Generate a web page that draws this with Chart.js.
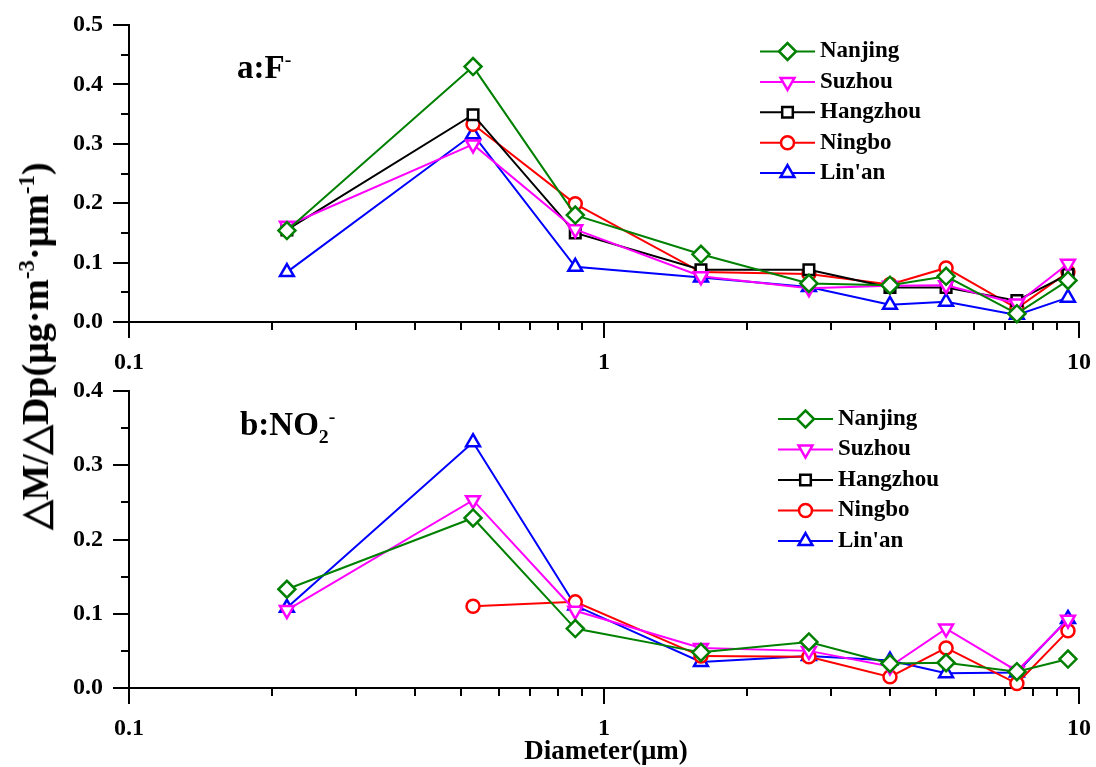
<!DOCTYPE html>
<html>
<head>
<meta charset="utf-8">
<script src="https://cdn.jsdelivr.net/npm/chart.js@4.4.0/dist/chart.umd.min.js"></script>
<style>
  body { margin: 0; background: #fff; width: 1096px; height: 767px; position: relative; overflow: hidden;
         font-family: 'Liberation Serif', 'Times New Roman', serif; font-weight: bold; }
  canvas { position: absolute; left: 0; }
  #cTop { top: 0; }
  #cBot { top: 366px; }
  .t { position: absolute; white-space: nowrap; line-height: 1; color: #000; }
  sup, sub { font-size: 60%; line-height: 0; }
  #yTitle { font-size: 38px; left: 35px; top: 346px; transform: translate(-50%, -50%) rotate(-90deg); }
  #xTitle { font-size: 27px; left: 606px; top: 737px; transform: translateX(-50%); }
  #labA { font-size: 33px; left: 237px; top: 51px; }
  #labB { font-size: 33px; left: 240px; top: 408px; }
</style>
</head>
<body>
<canvas id="cTop" width="1096" height="383"></canvas>
<canvas id="cBot" width="1096" height="383"></canvas>
<div class="t" id="yTitle">△M/△Dp(μg·m<sup>-3</sup>·μm<sup>-1</sup>)</div>
<div class="t" id="xTitle">Diameter(μm)</div>
<div class="t" id="labA">a:F<sup>-</sup></div>
<div class="t" id="labB">b:NO<sub>2</sub><sup>-</sup></div>
<script>
// stage midpoints (um)
const diameters = [0.215, 0.53, 0.87, 1.6, 2.7, 4.0, 5.25, 7.4, 9.48];
const cities = ['Nanjing', 'Suzhou', 'Hangzhou', 'Ningbo', "Lin'an"];

// a: F-
const fNanjing  = [0.154, 0.430, 0.180, 0.114, 0.065, 0.062, 0.077, 0.014, 0.070];
const fSuzhou   = [0.162, 0.299, 0.156, 0.077, 0.057, 0.061, 0.062, 0.031, 0.098];
const fHangzhou = [0.155, 0.349, 0.150, 0.088, 0.088, 0.058, 0.058, 0.036, 0.080];
const fNingbo   = [null,  0.333, 0.199, 0.084, 0.081, 0.063, 0.091, 0.023, 0.084];
const fLinan    = [0.084, 0.316, 0.093, 0.075, 0.059, 0.029, 0.034, 0.012, 0.041];

// b: NO2-
const nNanjing  = [0.133, 0.229, 0.080, 0.048, 0.062, 0.033, 0.034, 0.022, 0.039];
const nSuzhou   = [0.105, 0.253, 0.104, 0.054, 0.050, 0.029, 0.080, 0.023, 0.092];
const nHangzhou = [null, null, null, null, null, null, null, null, null];
const nNingbo   = [null,  0.110, 0.116, 0.043, 0.042, 0.015, 0.054, 0.006, 0.077];
const nLinan    = [0.108, 0.331, 0.111, 0.035, 0.043, 0.037, 0.020, 0.021, 0.093];

const xTickLabels = ['0.1', '1', '10'];
const yTicksTop = ['0.0', '0.1', '0.2', '0.3', '0.4', '0.5'];
const yTicksBottom = ['0.0', '0.1', '0.2', '0.3', '0.4'];

const styles = [
  { color: '#008000', point: 'rectRot',  radius: 8.5, rotation: 0 },
  { color: '#ff00ff', point: 'triangle', radius: 8,   rotation: 180 },
  { color: '#000000', point: 'rect',     radius: 7.5, rotation: 0 },
  { color: '#ff0000', point: 'circle',   radius: 6.5, rotation: 0 },
  { color: '#0000ff', point: 'triangle', radius: 8,   rotation: 0 }
];

Chart.defaults.font.family = "'Liberation Serif', 'Times New Roman', serif";
Chart.defaults.font.weight = 'bold';
Chart.defaults.color = '#000';

function decadeIndex(v) {
  const l = Math.log10(v);
  const d = Math.round(l);
  return Math.abs(l - d) < 1e-6 ? d + 1 : -1;
}
function wholeSignificand(v) {
  const e = Math.floor(Math.log10(v) + 1e-9);
  const s = v / Math.pow(10, e);
  return Math.abs(s - Math.round(s)) < 1e-6;
}
function tenthIndex(v) {
  const k = Math.round(v * 10);
  return Math.abs(v * 10 - k) < 1e-6 ? k : -1;
}

// outward major / minor tick marks
const tickMarks = {
  id: 'tickMarks',
  afterDraw(chart) {
    const ctx = chart.ctx, xs = chart.scales.x, ys = chart.scales.y, a = chart.chartArea;
    ctx.save();
    ctx.strokeStyle = '#000';
    ctx.lineWidth = 2;
    ctx.beginPath();
    xs.ticks.forEach(t => {
      const px = Math.round(xs.getPixelForValue(t.value));
      const len = decadeIndex(t.value) >= 0 ? 16 : 8;
      ctx.moveTo(px, a.bottom);
      ctx.lineTo(px, a.bottom + len);
    });
    ys.ticks.forEach(t => {
      const py = Math.round(ys.getPixelForValue(t.value));
      const len = tenthIndex(t.value) >= 0 ? 16 : 8;
      ctx.moveTo(a.left, py);
      ctx.lineTo(a.left - len, py);
    });
    ctx.stroke();
    ctx.restore();
  }
};

// legend drawn inside the plot
const cityLegend = {
  id: 'cityLegend',
  afterDraw(chart, args, opts) {
    const ctx = chart.ctx;
    chart.data.datasets.forEach((ds, i) => {
      const y = opts.y + i * opts.dy;
      ctx.save();
      ctx.strokeStyle = ds.borderColor;
      ctx.lineWidth = ds.borderWidth;
      ctx.beginPath();
      ctx.moveTo(opts.x, y);
      ctx.lineTo(opts.x + opts.len, y);
      ctx.stroke();
      ctx.fillStyle = '#fff';
      ctx.lineWidth = ds.pointBorderWidth;
      Chart.helpers.drawPoint(ctx, {
        pointStyle: ds.pointStyle, radius: ds.pointRadius,
        rotation: ds.pointRotation, borderWidth: ds.pointBorderWidth
      }, opts.x + opts.len / 2, y);
      ctx.fillStyle = '#000';
      ctx.font = "bold 23px 'Liberation Serif', 'Times New Roman', serif";
      ctx.textBaseline = 'middle';
      ctx.fillText(ds.label, opts.textX, y);
      ctx.restore();
    });
  }
};

// invisible tick marks only push the labels away from the axes
const hiddenGrid = { display: true, drawOnChartArea: false, drawTicks: true, tickLength: 26, tickColor: 'rgba(0,0,0,0)' };

function makeChart(id, seriesList, yLabels, legendOpts) {
  const yMax = parseFloat(yLabels[yLabels.length - 1]);
  return new Chart(document.getElementById(id), {
    type: 'line',
    data: {
      datasets: seriesList.map((vals, i) => ({
        label: cities[i],
        data: diameters.map((d, j) => ({ x: d, y: vals[j] })),
        borderColor: styles[i].color,
        backgroundColor: '#fff',
        borderWidth: 2,
        pointStyle: styles[i].point,
        pointRadius: styles[i].radius,
        pointRotation: styles[i].rotation,
        pointBorderWidth: 2.5,
        pointBorderColor: styles[i].color,
        pointBackgroundColor: '#fff',
        tension: 0,
        spanGaps: false,
        clip: 12
      }))
    },
    options: {
      responsive: false,
      animation: false,
      events: [],
      layout: { padding: { left: 0, right: 17, top: 25, bottom: 0 } },
      plugins: {
        legend: { display: false },
        tooltip: { enabled: false },
        cityLegend: legendOpts
      },
      scales: {
        x: {
          type: 'logarithmic',
          min: 0.1,
          max: 10,
          afterFit: s => { s.height = 61; },
          afterBuildTicks: s => { s.ticks = s.ticks.filter(t => wholeSignificand(t.value)); },
          grid: hiddenGrid,
          border: { display: true, color: '#000', width: 2 },
          ticks: {
            autoSkip: false, maxRotation: 0, padding: 0,
            font: { size: 24, weight: 'bold' },
            callback: v => { const k = decadeIndex(v); return k >= 0 ? xTickLabels[k] : ''; }
          }
        },
        y: {
          min: 0,
          max: yMax,
          afterFit: s => { s.width = 129; },
          grid: hiddenGrid,
          border: { display: true, color: '#000', width: 2 },
          ticks: {
            stepSize: 0.05, autoSkip: false, padding: 0,
            font: { size: 24, weight: 'bold' },
            callback: v => { const k = tenthIndex(v); return k >= 0 && yLabels[k] ? yLabels[k] : ''; }
          }
        }
      }
    },
    plugins: [tickMarks, cityLegend]
  });
}

makeChart('cTop', [fNanjing, fSuzhou, fHangzhou, fNingbo, fLinan], yTicksTop,
  { x: 760, y: 51.5, dy: 30.4, len: 55, textX: 820 });
makeChart('cBot', [nNanjing, nSuzhou, nHangzhou, nNingbo, nLinan], yTicksBottom,
  { x: 778, y: 53, dy: 30.5, len: 55, textX: 838 });
</script>
</body>
</html>
